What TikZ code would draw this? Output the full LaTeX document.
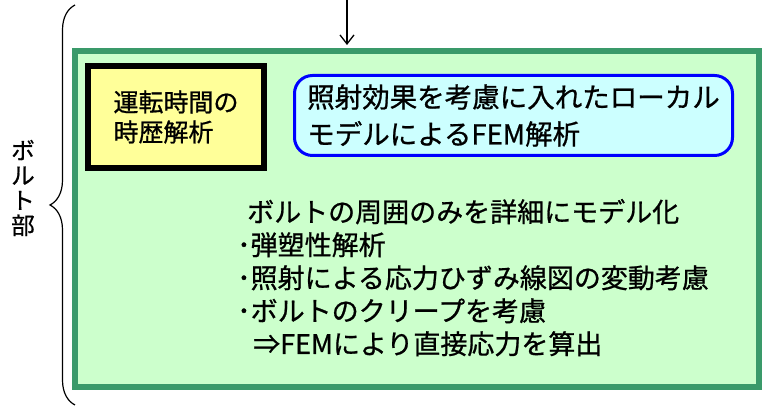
\documentclass[tikz,border=0pt]{standalone}
\usepackage{fontspec}
\newfontfamily\cjk[FakeBold=0.8]{Noto Sans CJK JP}
\usetikzlibrary{arrows.meta,decorations.pathreplacing}
\definecolor{boltgreen}{HTML}{3A9A6A}
\definecolor{boltfill}{HTML}{CCFFCC}
\definecolor{histfill}{HTML}{FFFF99}
\definecolor{femfill}{HTML}{CCFFFF}

\begin{document}
\begin{tikzpicture}[x=1pt,y=1pt,
        jp/.style={font=\cjk\fontsize{27}{33}\selectfont},
        box/.style={minimum width=#1, align=left, inner sep=0pt}]
        \useasboundingbox (0,0) rectangle (764,406);

        % Bolt part (green frame)
        \node[box=684pt, draw=boltgreen, line width=6pt, fill=boltfill, minimum height=336pt] (bolt) at (417,187) {};

        % Input from above
        \coordinate (feed) at (347,406);
        \draw[-{Straight Barb[length=9pt,width=14pt]}, line width=1.3pt, shorten >=3pt] (feed) -- (bolt.north -| feed);

        % Time history box (yellow, thick black frame)
        \node[box=176pt, draw=black, line width=6.5pt, fill=histfill, minimum height=102pt,
              font=\cjk\fontsize{25}{30}\selectfont] (hist) at (176,289) {運転時間の\\時歴解析};

        % Local FEM model box (rounded, blue)
        \node[box=438pt, draw=blue, line width=3pt, rounded corners=18pt, fill=femfill, minimum height=80pt,
              font=\cjk\fontsize{27.5}{37}\selectfont] (fem) at (513.5,290.5) {照射効果を考慮に入れたローカル\\モデルによるFEM解析};

        % Detailed modelling notes
        \foreach \x/\y/\txt [count=\i] in {247/184/ボルトの周囲のみを詳細にモデル化,
                                          237/151/･弾塑性解析,
                                          237/118/･照射による応力ひずみ線図の変動考慮,
                                          237/85/･ボルトのクリープを考慮,
                                          253/52/⇒FEMにより直接応力を算出} {
            \node[jp, anchor=base west, inner sep=0pt] (line\i) at (\x,\y) {\txt};
        }

        % Brace and label on the left
        \coordinate (braceBot) at (75,1);
        \coordinate (braceTop) at (75,401);
        \draw[line width=1.2pt, decorate, decoration={brace, amplitude=25pt}] (braceBot) -- (braceTop);
        \node[font=\cjk\fontsize{23.5}{25}\selectfont, align=center, inner sep=0pt] (boltlabel) at (23,218) {ボ\\ル\\ト\\部};

    \end{tikzpicture}
\end{document}
